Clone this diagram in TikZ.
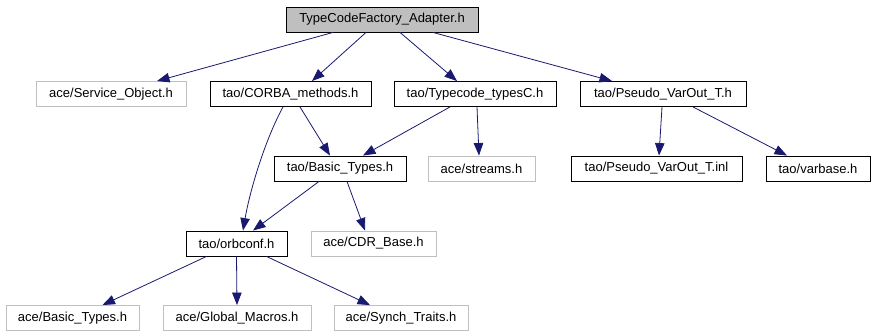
\documentclass[tikz,border=0pt]{standalone}
\usepackage{fontspec}
\setmainfont{Liberation Sans}
\usepackage{tikz}
\usetikzlibrary{arrows.meta}
\usepackage{xcolor}
\definecolor{edgeblue}{RGB}{25, 25, 112}
\definecolor{missing}{RGB}{191, 191, 191}
\definecolor{rootfill}{RGB}{191, 191, 191}

\tikzset{
  file/.style={draw=black, line width=0.9pt, inner sep=0pt, minimum height=25pt, text=black},
  extfile/.style={file, draw=missing},
  dep/.style={-{Triangle[length=12.5pt, width=9.5pt]}, edgeblue, line width=0.8pt}
}

\begin{document}
\begin{tikzpicture}[x=1pt, y=-1pt, font=\fontsize{13}{15}\selectfont]
  \useasboundingbox (0,0) rectangle (875,336);

  % the header itself
  \node[file, fill=rootfill, minimum width=192pt] (root) at (382,19.5) {TypeCodeFactory\_Adapter.h};

  % first level
  \node[extfile, minimum width=150pt] (svc) at (111,94) {ace/Service\_Object.h};
  \node[file, minimum width=161pt] (corba) at (290.5,94) {tao/CORBA\_methods.h};
  \node[file, minimum width=162pt] (tcode) at (475,94) {tao/Typecode\_typesC.h};
  \node[file, minimum width=166pt] (pseudo) at (663,94) {tao/Pseudo\_VarOut\_T.h};

  % second level
  \node[file, minimum width=132pt] (basic) at (340,168.5) {tao/Basic\_Types.h};
  \node[extfile, minimum width=107pt] (streams) at (481.5,168.5) {ace/streams.h};
  \node[file, minimum width=171pt] (pinl) at (656.5,168.5) {tao/Pseudo\_VarOut\_T.inl};
  \node[file, minimum width=104pt] (varbase) at (818,168.5) {tao/varbase.h};

  % third level
  \node[file, minimum width=101pt] (orbconf) at (236.5,243.5) {tao/orbconf.h};
  \node[extfile, minimum width=125pt] (cdr) at (373.5,243.5) {ace/CDR\_Base.h};

  % fourth level
  \node[extfile, minimum width=133pt] (acebasic) at (72.5,318) {ace/Basic\_Types.h};
  \node[extfile, minimum width=148pt] (glob) at (237,318) {ace/Global\_Macros.h};
  \node[extfile, minimum width=134pt] (synch) at (401,318) {ace/Synch\_Traits.h};

  % includes
  \draw[dep] ([xshift=-49pt]root.south) -- ([xshift=46pt]svc.north);
  \draw[dep] ([xshift=-16pt]root.south) -- ([xshift=21.5pt]corba.north);
  \draw[dep] ([xshift=18pt]root.south) -- ([xshift=-18pt]tcode.north);
  \draw[dep] ([xshift=51pt]root.south) -- ([xshift=-51pt]pseudo.north);

  \draw[dep] ([xshift=9.5pt]corba.south) -- ([xshift=-10pt]basic.north);
  \draw[dep] ([xshift=-7.5pt]corba.south) .. controls (265,140) and (250,190) .. ([xshift=6.5pt]orbconf.north);
  \draw[dep] ([xshift=-25pt]tcode.south) -- ([xshift=23pt]basic.north);
  \draw[dep] ([xshift=2pt]tcode.south) -- ([xshift=-2.5pt]streams.north);
  \draw[dep] ([xshift=-1pt]pseudo.south) -- ([xshift=2.5pt]pinl.north);
  \draw[dep] ([xshift=30pt]pseudo.south) -- ([xshift=-31pt]varbase.north);

  \draw[dep] ([xshift=-21pt]basic.south) -- ([xshift=16.5pt]orbconf.north);
  \draw[dep] ([xshift=7pt]basic.south) -- ([xshift=-8.5pt]cdr.north);

  \draw[dep] ([xshift=-30pt]orbconf.south) -- ([xshift=30pt]acebasic.north);
  \draw[dep] (orbconf.south) -- (glob.north);
  \draw[dep] ([xshift=30pt]orbconf.south) -- ([xshift=-31pt]synch.north);
\end{tikzpicture}
\end{document}
